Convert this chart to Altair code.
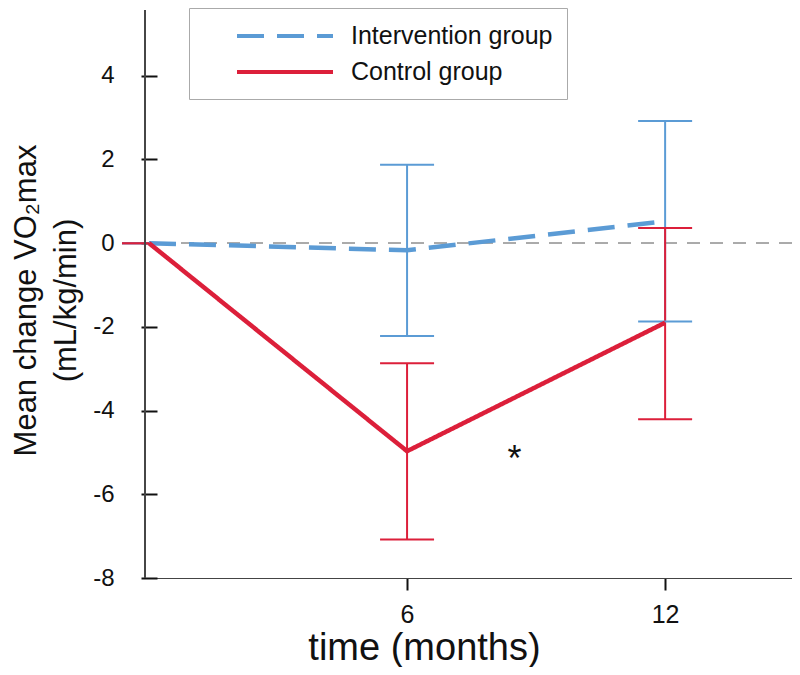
import altair as alt
import pandas as pd

# ---- data ----
groups = ["Intervention group", "Control group"]
months = [0, 6, 12]
intervention_mean = [0.0, -0.17, 0.52]
intervention_lo = [0.0, -2.22, -1.87]
intervention_hi = [0.0, 1.87, 2.92]
control_mean = [0.0, -4.97, -1.90]
control_lo = [0.0, -7.08, -4.21]
control_hi = [0.0, -2.87, 0.36]
x_ticks = [6, 12]
y_ticks = [-8, -6, -4, -2, 0, 2, 4]
star_month = [8.5]
star_value = [-5.0]

rows = []
for g, means, los, his in [
    (groups[0], intervention_mean, intervention_lo, intervention_hi),
    (groups[1], control_mean, control_lo, control_hi),
]:
    for m, mu, lo, hi in zip(months, means, los, his):
        rows.append({"group": g, "month": m, "mean": mu, "lo": lo, "hi": hi})
df = pd.DataFrame(rows)
star_df = pd.DataFrame({"month": star_month, "value": star_value})

BLUE = "#5b9bd5"
RED = "#dc1f3a"
FONT = "Liberation Sans"
W, H = 647, 568

x_scale = alt.Scale(domain=[-0.093, 14.95], nice=False, zero=False)
y_scale = alt.Scale(domain=[-8, 5.57], nice=False, zero=False)

x_axis = alt.Axis(
    values=x_ticks, title="time (months)", grid=False,
    titleFont=FONT, titleFontSize=38, titleFontWeight="normal", titleColor="#111",
    titleX=279, titleY=81, titleBaseline="alphabetic", titleAlign="center",
    labelFont=FONT, labelFontSize=25, labelColor="#111", labelPadding=12, labelFlush=False,
    tickSize=12, tickWidth=2, tickColor="#111", domainColor="#444", domainWidth=1,
)
y_axis = alt.Axis(
    values=y_ticks, title=["Mean change VO₂max", "(mL/kg/min)"], grid=False,
    offset=-12, domain=False, tickSize=16, tickWidth=2, tickColor="#111",
    labelFont=FONT, labelFontSize=24, labelColor="#111", labelPadding=27,
    labelExpr="'' + datum.value",
    titleFont=FONT, titleFontSize=31, titleFontWeight="normal", titleColor="#111",
    titleX=-122, titleY=290, titleBaseline="alphabetic", titleAlign="center",
    titleLineHeight=40,
)

legend = alt.Legend(
    orient="none", legendX=44, legendY=-2, title=" ", titleOrient="left",
    titlePadding=32, titleFontSize=4,
    symbolType="M-4,0H4", symbolSize=576, symbolStrokeWidth=4, symbolOpacity=1,
    symbolOffset=36,
    labelFont=FONT, labelFontSize=25, labelColor="#111", labelOffset=52, labelLimit=500,
    rowPadding=9, padding=14, strokeColor="#aaa", fillColor="white",
    direction="vertical",
)

color = alt.Color("group:N", scale=alt.Scale(domain=groups, range=[BLUE, RED]), legend=legend)
dash = alt.StrokeDash("group:N", scale=alt.Scale(domain=groups, range=[[27, 13], [1, 0]]), legend=legend)

X = alt.X("month:Q", scale=x_scale, axis=x_axis)

zero_line = alt.Chart(df).mark_rule(color="#aaaaaa", strokeWidth=1.5, strokeDash=[13, 10]).encode(
    y=alt.YDatum(0, scale=y_scale, axis=y_axis)
)

bars = alt.Chart(df).mark_rule(strokeWidth=2, opacity=1).encode(
    x=X,
    y=alt.Y("lo:Q", scale=y_scale, axis=y_axis),
    y2="hi:Q",
    color=color,
)
caps_lo = alt.Chart(df).mark_tick(orient="horizontal", size=54, thickness=2, opacity=1).encode(
    x=X, y=alt.Y("lo:Q", scale=y_scale, axis=y_axis), color=color
)
caps_hi = alt.Chart(df).mark_tick(orient="horizontal", size=54, thickness=2, opacity=1).encode(
    x=X, y=alt.Y("hi:Q", scale=y_scale, axis=y_axis), color=color
)
lines = alt.Chart(df).mark_line(strokeWidth=4.5, strokeCap="butt", opacity=1).encode(
    x=X,
    y=alt.Y("mean:Q", scale=y_scale, axis=y_axis),
    color=color,
    strokeDash=dash,
    order=alt.Order("month:Q"),
)
star = alt.Chart(star_df).mark_text(
    text="*", font=FONT, fontSize=36, color="#111", baseline="alphabetic", dy=19
).encode(
    x=alt.X("month:Q", scale=x_scale, axis=x_axis),
    y=alt.Y("value:Q", scale=y_scale, axis=y_axis),
)
y_line = alt.Chart(df).mark_rule(color="#444", strokeWidth=1).encode(
    x=alt.value(0), y=alt.value(0), y2=alt.value(H)
)

chart = alt.layer(zero_line, bars, caps_lo, caps_hi, lines, star, y_line).properties(
    width=W, height=H,
    autosize=alt.AutoSizeParams(type="none"),
    padding={"left": 137, "top": 2, "right": 0, "bottom": 89},
).configure_view(stroke=None)

chart.save("out.html", embed_options={"renderer": "svg", "actions": False})
